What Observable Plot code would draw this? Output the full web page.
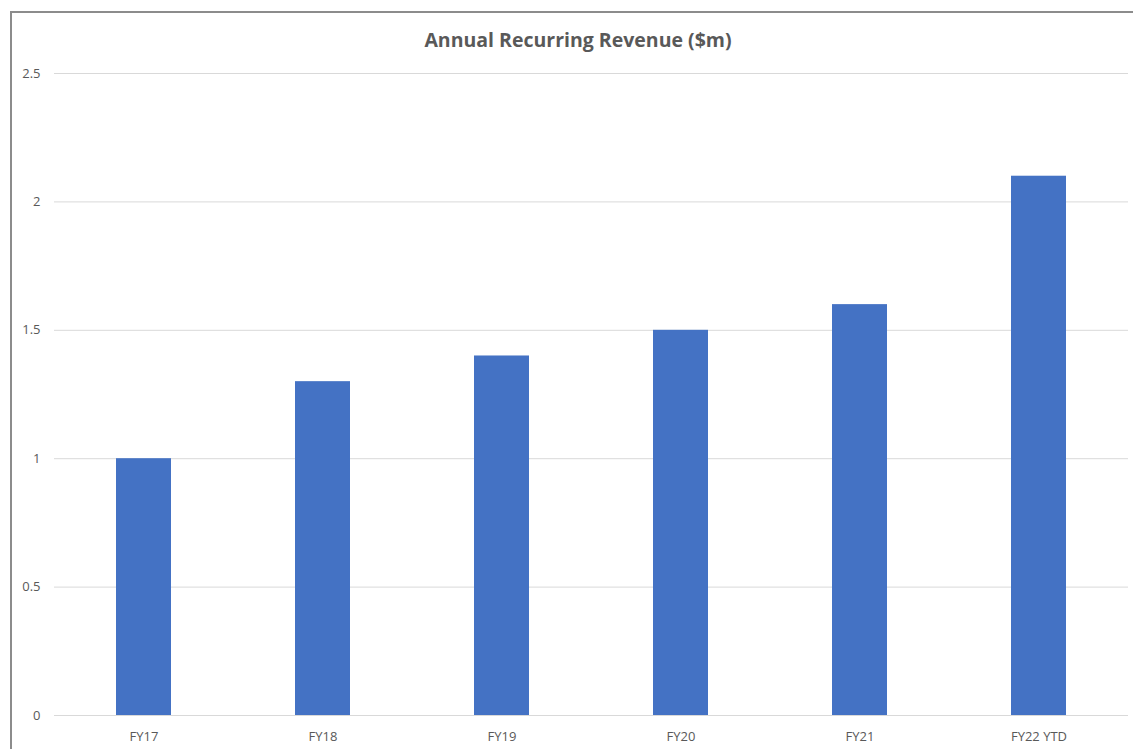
<!DOCTYPE html>
<html>
<head>
<meta charset="utf-8">
<script src="https://cdn.jsdelivr.net/npm/d3@7"></script>
<script src="https://cdn.jsdelivr.net/npm/@observablehq/plot@0.6"></script>
<style>
  html, body { margin: 0; padding: 0; background: #fff; }
  #wrap { position: relative; width: 1133px; height: 749px; overflow: hidden; }
  #frame { position: absolute; left: 10px; top: 11px; width: 1130px; height: 760px;
           border-top: 2px solid #8c8c8c; border-left: 2px solid #8c8c8c; }
  #title { position: absolute; left: 0; top: 26px; width: 1156px; text-align: center;
           font-family: "Open Sans", sans-serif; font-weight: bold; font-size: 19.5px; color: #595959; }
  #chart { position: absolute; left: 0; top: 60px; }
</style>
</head>
<body>
<div id="wrap">
  <div id="frame"></div>
  <div id="title">Annual Recurring Revenue ($m)</div>
  <div id="chart"></div>
</div>
<script>
const categories = ["FY17", "FY18", "FY19", "FY20", "FY21", "FY22 YTD"];
const values = [1.0, 1.3, 1.4, 1.5, 1.6, 2.1];
const yTicks = [0, 0.5, 1, 1.5, 2, 2.5];

const data = categories.map((c, i) => ({category: c, value: values[i]}));

const chart = Plot.plot({
  width: 1133,
  height: 689,
  marginLeft: 54,
  marginRight: 5,
  marginTop: 13,
  marginBottom: 34,
  style: {fontFamily: "Open Sans, sans-serif", fontSize: "13px", color: "#595959", background: "transparent"},
  x: {domain: categories, paddingInner: 0.69, paddingOuter: 0.345, label: null, tickSize: 0, tickPadding: 16},
  y: {domain: [0, 2.5], ticks: yTicks, tickFormat: d => String(d), label: null, tickSize: 0, tickPadding: 14},
  marks: [
    Plot.gridY(yTicks, {stroke: "#d9d9d9", strokeOpacity: 1, strokeWidth: 1}),
    Plot.barY(data, {x: "category", y: "value", fill: "#4472C4"}),
    Plot.axisY({ticks: yTicks, tickSize: 0, tickPadding: 14, tickFormat: d => String(d), label: null, fill: "#595959"}),
    Plot.axisX({tickSize: 0, tickPadding: 16, label: null, fill: "#595959"})
  ]
});
document.getElementById("chart").appendChild(chart);
</script>
</body>
</html>
